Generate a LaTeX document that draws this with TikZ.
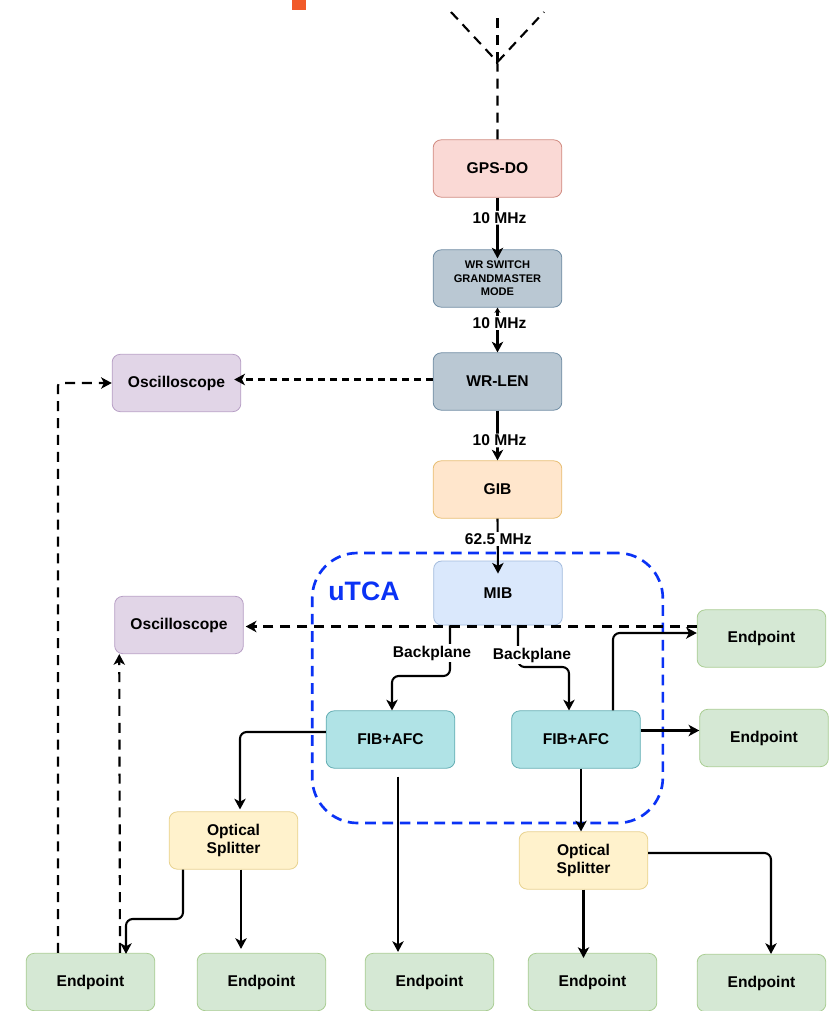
\documentclass[tikz,border=0pt]{standalone}
\usepackage{fontspec}
\setmainfont{Liberation Sans}
\usetikzlibrary{arrows.meta}

\definecolor{gpsFill}{HTML}{FAD9D5}
\definecolor{gpsLine}{HTML}{D08A80}
\definecolor{wrFill}{HTML}{BAC8D3}
\definecolor{wrLine}{HTML}{6F8CA3}
\definecolor{gibFill}{HTML}{FFE6CC}
\definecolor{gibLine}{HTML}{E8BE72}
\definecolor{mibFill}{HTML}{DAE8FC}
\definecolor{mibLine}{HTML}{A3BBDD}
\definecolor{oscFill}{HTML}{E1D5E7}
\definecolor{oscLine}{HTML}{B79FC5}
\definecolor{epFill}{HTML}{D5E8D4}
\definecolor{epLine}{HTML}{A9CD92}
\definecolor{fibFill}{HTML}{B0E3E6}
\definecolor{fibLine}{HTML}{62ADB2}
\definecolor{splitFill}{HTML}{FFF2CC}
\definecolor{splitLine}{HTML}{E8D28E}
\definecolor{utcaBlue}{HTML}{0A32F5}
\definecolor{cornerMark}{HTML}{F15A29}

\tikzset{
  x=0.75pt, y=-0.75pt,
  unit/.style={draw, line width=0.6pt, rounded corners=6pt, minimum width=96.5pt,
    minimum height=43pt, align=center, inner sep=1pt, font=\fontsize{11.7}{14}\selectfont\bfseries},
  gpsbox/.style={unit, fill=gpsFill, draw=gpsLine},
  wrbox/.style={unit, fill=wrFill, draw=wrLine},
  gibbox/.style={unit, fill=gibFill, draw=gibLine},
  mibbox/.style={unit, fill=mibFill, draw=mibLine},
  oscbox/.style={unit, fill=oscFill, draw=oscLine},
  epbox/.style={unit, fill=epFill, draw=epLine},
  fibbox/.style={unit, fill=fibFill, draw=fibLine},
  splitbox/.style={unit, fill=splitFill, draw=splitLine},
  link/.style={line width=1.55pt, rounded corners=5pt, -{Stealth[length=8pt,width=8.5pt,inset=2.2pt]}},
  plainlink/.style={line width=1.55pt},
  dashlink/.style={line width=1.6pt, rounded corners=2pt, dash pattern=on 7.5pt off 5.2pt},
  thindash/.style={line width=1.55pt, dash pattern=on 5pt off 4pt},
  tip/.style={-{Stealth[length=8pt,width=8.5pt,inset=2.2pt]}},
  freq/.style={fill=white, inner sep=1pt, font=\fontsize{11.7}{14}\selectfont\bfseries}
}

\begin{document}
\begin{tikzpicture}
\useasboundingbox (0,0) rectangle (830,1011);

\node[fill=cornerMark, minimum width=10.5pt, minimum height=7.5pt, inner sep=0pt] (cornerBlock) at (299,5) {};

\node[draw=utcaBlue, line width=2pt, dash pattern=on 8pt off 5pt, rounded corners=34pt,
  minimum width=263pt, minimum height=202.5pt] (utcaBox) at (487.5,688) {};
\node[text=utcaBlue, font=\fontsize{20}{24}\selectfont\bfseries] (utcaLabel) at (364,591) {uTCA};

\node[gpsbox] (gpsDo) at (497.5,168.5) {GPS-DO};
\node[wrbox, font=\fontsize{8.3}{10.2}\selectfont\bfseries] (wrSwitch) at (497.5,278.5) {WR SWITCH\\GRANDMASTER\\MODE};
\node[wrbox] (wrLen) at (497.5,381.5) {WR-LEN};
\node[gibbox] (gib) at (497.5,489.5) {GIB};
\node[mibbox, minimum height=48pt] (mib) at (498,593) {MIB};
\node[oscbox] (oscTop) at (176.5,383) {Oscilloscope};
\node[oscbox] (oscLow) at (179,625) {Oscilloscope};
\node[fibbox] (fibLeft) at (390.5,739.5) {FIB+AFC};
\node[fibbox] (fibRight) at (576,739.5) {FIB+AFC};
\node[splitbox] (splitLeft) at (233.5,840.5) {Optical\\Splitter};
\node[splitbox] (splitRight) at (583.5,860.5) {Optical\\Splitter};

\node[epbox] (epRightA) at (761.5,638.5) {Endpoint};
\node[epbox] (epRightB) at (764,738) {Endpoint};
\node[epbox] (epA) at (90.5,982) {Endpoint};
\node[epbox] (epB) at (261.5,982) {Endpoint};
\node[epbox] (epC) at (429.5,982) {Endpoint};
\node[epbox] (epD) at (592.5,982) {Endpoint};
\node[epbox] (epE) at (761.5,983) {Endpoint};

% antenna
\coordinate (antBase) at (497.5,62);
\coordinate (antLeft) at (451,12);
\coordinate (antMid) at (497.5,12);
\coordinate (antRight) at (544,12);
\draw[dashlink] (gpsDo.north) -- (antBase) -- (antLeft);
\draw[dashlink] (antBase) -- (antMid);
\draw[dashlink] (antBase) -- (antRight);

% clock chain
\draw[link] (gpsDo.south) -- node[freq, pos=0.33, xshift=1.5pt] (freqA) {10 MHz} ([shift={(0,9)}]wrSwitch.north);
\draw[plainlink, {Stealth[length=4pt,width=4.5pt]}-{Stealth[length=8pt,width=8.5pt,inset=2.2pt]}] (wrSwitch.south) -- node[freq, pos=0.34, xshift=1.5pt] (freqB) {10 MHz} (wrLen.north);
\draw[link] (wrLen.south) -- node[freq, pos=0.6, xshift=1.5pt] (freqC) {10 MHz} (gib.north);
\draw[link] (gib.south) -- node[freq, pos=0.37, xshift=0.5pt] (freqD) {62.5 MHz} ([shift={(0,13)}]mib.north);

% backplane
\draw[link] ([shift={(-48,0)}]mib.south) -- (450,676) -- (392,676) -- ([shift={(1.5,0)}]fibLeft.north);
\node[freq] (backA) at (432,653) {Backplane};
\draw[link] ([shift={(20,0)}]mib.south) -- (518,667) -- (569,667) -- ([shift={(-7,0)}]fibRight.north);
\node[freq] (backB) at (532,655) {Backplane};

% scope lines
\draw[thindash, tip] ([shift={(0,-2)}]wrLen.west) -- ([shift={(-7,-3.5)}]oscTop.east);
\draw[dashlink, tip] ([shift={(0,-12)}]epRightA.west) -- ([shift={(2,1.5)}]oscLow.east);
\draw[dashlink, tip] ([shift={(-32.5,0)}]epA.north) -- (58,383) -- (oscTop.west);
\draw[dashlink, tip] ([shift={(29.5,0)}]epA.north) -- ([shift={(5,0)}]oscLow.south west);

% fibre lines
\draw[link] ([shift={(37,0)}]fibRight.north) -- (613,633) -- ([shift={(0,-5.5)}]epRightA.west);
\draw[link] ([shift={(0,-9)}]fibRight.east) -- ([shift={(0,-7.5)}]epRightB.west);
\draw[link] ([shift={(5,0)}]fibRight.south) -- ([shift={(-2.5,0)}]splitRight.north);
\draw[link] ([shift={(0,-7.5)}]fibLeft.west) -- (240,732) -- ([shift={(6.5,-2)}]splitLeft.north);
\draw[link] ([shift={(7.5,8)}]fibLeft.south) -- ([shift={(-31.5,-1)}]epC.north);

% splitters to endpoints
\draw[link] ([shift={(-50.5,0)}]splitLeft.south) -- (183,919) -- (126,919) -- ([shift={(35.5,1)}]epA.north);
\draw[link] ([shift={(7.5,0)}]splitLeft.south) -- ([shift={(-20.5,-4)}]epB.north);
\draw[link] (splitRight.south) -- ([shift={(-9,5)}]epD.north);
\draw[link] ([shift={(0,-7.5)}]splitRight.east) -- (771,853) -- ([shift={(9.5,0)}]epE.north);
\end{tikzpicture}
\end{document}
